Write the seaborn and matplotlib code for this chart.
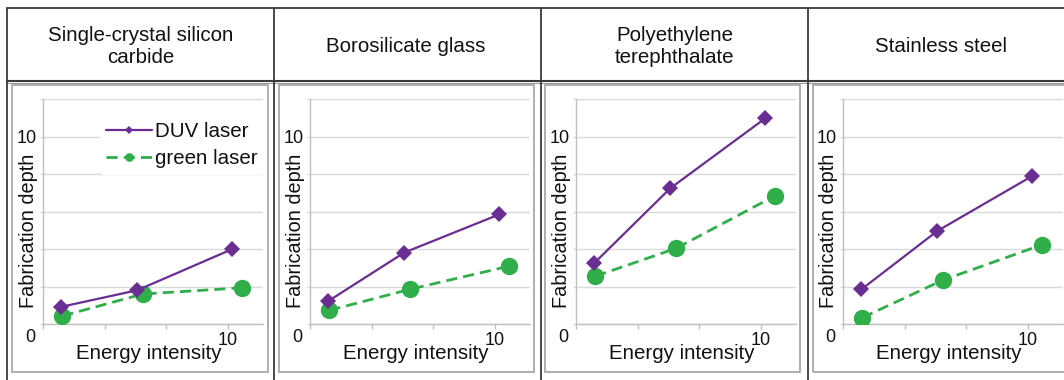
import matplotlib
matplotlib.use("Agg")
import matplotlib.pyplot as plt
from matplotlib.patches import Rectangle
from matplotlib.lines import Line2D
import seaborn as sns
import pandas as pd

# ---------------- data ----------------
materials = ["Single-crystal silicon\ncarbide", "Borosilicate glass",
             "Polyethylene\nterephthalate", "Stainless steel"]
series_names = ["DUV laser", "green laser"]
x_duv = [1.0, 5.1, 10.25]
x_green = [1.05, 5.4, 10.75]
duv_depth = [
    [0.92, 1.8, 4.0],
    [1.23, 3.81, 5.85],
    [3.26, 7.24, 10.98],
    [1.85, 4.96, 7.9],
]
green_depth = [
    [0.43, 1.6, 1.93],
    [0.73, 1.85, 3.08],
    [2.55, 4.03, 6.83],
    [0.34, 2.34, 4.22],
]
x_ticks = [0, 10 / 3, 20 / 3, 10]
x_tick_labels = ["", "", "", "10"]
y_ticks = [0, 2, 4, 6, 8, 10, 12]
y_tick_labels = ["", "", "", "", "", "10", ""]
x_label = "Energy intensity"
y_label = "Fabrication depth"
origin_label = "0"

# ---------------- style ----------------
sns.set_theme(style="white")
plt.rcParams["font.family"] = ["Liberation Sans", "DejaVu Sans"]

W, H = 1064, 380
DPI = 100
fig = plt.figure(figsize=(W / DPI, H / DPI), dpi=DPI)
fig.patch.set_facecolor("white")

PURPLE = "#6a2d92"
GREEN = "#2fae4a"
GRID = "#d9d9d9"
AXC = "#bfbfbf"
TXT = "#111111"


def fx(px):
    return px / W


def fy(py):
    return 1 - py / H


# table lines
TABLE = "#3a3a3a"
fig.add_artist(Line2D([fx(7), 1.0], [fy(8), fy(8)], color=TABLE, lw=1.3))
fig.add_artist(Line2D([fx(7), 1.0], [fy(81), fy(81)], color=TABLE, lw=1.5))
fig.add_artist(Line2D([fx(7), 1.0], [fy(83), fy(83)], color="#9a9a9a", lw=0.8))
for xv in [7, 274, 541, 808]:
    fig.add_artist(Line2D([fx(xv), fx(xv)], [fy(8), 0.0], color=TABLE, lw=1.3))

cell_centers = [140.5, 406, 674.5, 941]
axes_left = [43, 310, 576, 843]
box_ranges = [(12, 268), (279, 534), (545, 800), (813, 1070)]

for i in range(4):
    # header
    fig.text(fx(cell_centers[i]), fy(46.5), materials[i], ha="center", va="center",
             fontsize=14.8, color=TXT, linespacing=1.25)
    # chart box
    bx0, bx1 = box_ranges[i]
    fig.add_artist(Rectangle((fx(bx0), fy(372)), fx(bx1 - bx0), (372 - 85) / H,
                             fill=False, edgecolor="#a8a8a8", lw=1.3))

    ax = fig.add_axes([fx(axes_left[i]), fy(324), 220 / W, 225 / H])
    ax.set_facecolor("white")
    df_duv = pd.DataFrame({"x": x_duv, "y": duv_depth[i]})
    df_green = pd.DataFrame({"x": x_green, "y": green_depth[i]})
    sns.lineplot(data=df_duv, x="x", y="y", ax=ax, color=PURPLE, lw=1.6,
                 marker="D", markersize=7.8, markeredgewidth=0,
                 label=series_names[0], zorder=4)
    sns.lineplot(data=df_green, x="x", y="y", ax=ax, color=GREEN, lw=2.0,
                 linestyle=(0, (4, 2.2)), marker="o", markersize=12.5,
                 markeredgewidth=0, label=series_names[1], zorder=3)

    ax.set_xlim(0, 11.9)
    ax.set_ylim(0, 12)
    ax.set_xticks(x_ticks)
    ax.set_xticklabels(x_tick_labels)
    ax.set_yticks(y_ticks)
    ax.set_yticklabels(y_tick_labels)
    ax.grid(axis="y", color=GRID, lw=1.0)
    ax.grid(axis="x", visible=False)
    ax.set_axisbelow(True)
    for s in ["top", "right"]:
        ax.spines[s].set_visible(False)
    for s in ["left", "bottom"]:
        ax.spines[s].set_color(AXC)
        ax.spines[s].set_linewidth(1.0)
    ax.tick_params(axis="x", direction="out", length=3.5, width=1.0, color=AXC,
                   labelsize=13, pad=2, labelcolor=TXT, bottom=True)
    ax.tick_params(axis="y", direction="out", length=2.5, width=1.0, color=GRID,
                   labelsize=13, pad=2.0, labelcolor=TXT, left=True)
    ax.set_xlabel(x_label, fontsize=14.8, color=TXT)
    ax.set_ylabel(y_label, fontsize=14.3, color=TXT)
    ax.xaxis.set_label_coords(0.48, -0.133)
    ax.yaxis.set_label_coords(-0.066, 0.413)
    ax.xaxis.label.set_verticalalignment("center")
    ax.yaxis.label.set_verticalalignment("center")
    fig.text(fx(axes_left[i] - 13), fy(338), origin_label, ha="center", va="center",
             fontsize=13, color=TXT)

    if i == 0:
        leg = ax.legend(loc="upper left", bbox_to_anchor=(0.26, 0.925),
                        borderaxespad=0, frameon=True, fontsize=14.8,
                        handlelength=2.2, handletextpad=0.15, labelspacing=0.4,
                        borderpad=0.3, markerscale=0.5)
        leg.get_frame().set_facecolor("white")
        leg.get_frame().set_edgecolor("white")
        leg.get_frame().set_alpha(1.0)
        leg.set_zorder(10)
        for t in leg.get_texts():
            t.set_color(TXT)
    else:
        lg = ax.get_legend()
        if lg is not None:
            lg.remove()

fig.savefig("out.png", dpi=DPI, facecolor="white")
